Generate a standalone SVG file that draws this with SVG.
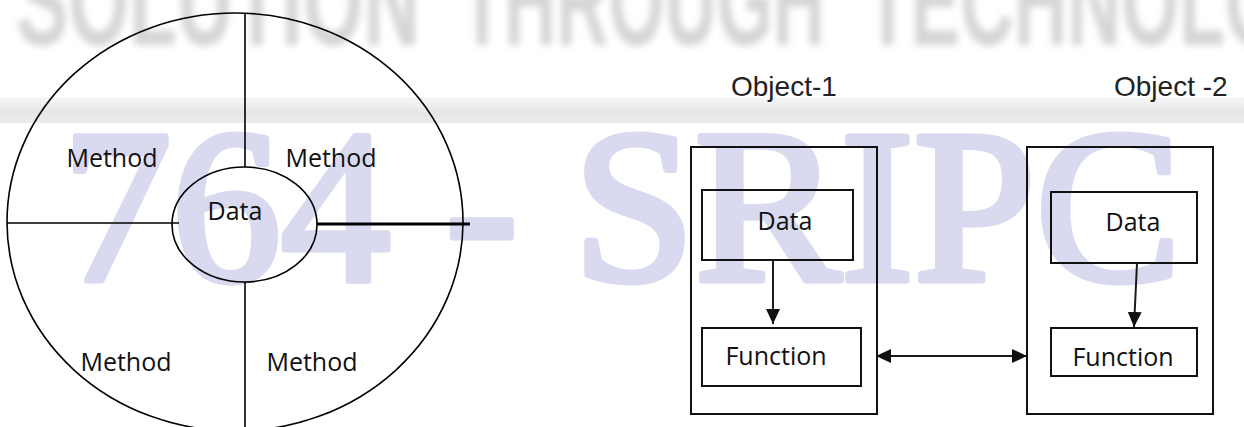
<svg xmlns="http://www.w3.org/2000/svg" width="1244" height="427" viewBox="0 0 1244 427">
  <style>
    .line { fill: none; stroke: #000; stroke-width: 1.6; }
    .box { fill: none; stroke: #111; stroke-width: 2; }
    .conn { fill: none; stroke: #1a1a1a; stroke-width: 2; }
    .lbl { font-family: "Open Sans", "Noto Sans", "Liberation Sans", sans-serif; font-size: 25px; fill: #111; }
    .obj { font-family: "Liberation Sans", Arial, sans-serif; font-size: 28px; fill: #222; }
    .mark { font-family: "Liberation Serif", "Times New Roman", serif; font-size: 219px; fill: #d9d9ef; stroke: #d9d9ef; stroke-width: 7; stroke-linejoin: round; }
    .band { font-family: "Liberation Sans", Arial, sans-serif; font-weight: bold; font-size: 130px; fill: #d5d5d5; }
  </style>
  <defs>
    <marker id="head" viewBox="0 0 15 14" markerWidth="15" markerHeight="14" refX="15" refY="7" orient="auto-start-reverse" markerUnits="userSpaceOnUse">
      <path d="M0,0 L15,7 L0,14 z" fill="#111"/>
    </marker>
    <filter id="soft" x="-5%" y="-20%" width="110%" height="140%">
      <feGaussianBlur stdDeviation="3.5"/>
    </filter>
    <linearGradient id="stripe" x1="0" y1="0" x2="0" y2="1">
      <stop offset="0" stop-color="#f7f7f7"/>
      <stop offset="0.6" stop-color="#e6e6e6"/>
      <stop offset="1" stop-color="#ececec"/>
    </linearGradient>
  </defs>

  <rect width="1244" height="427" fill="#fff"/>

  <!-- background branding -->
  <g id="backdrop">
    <g filter="url(#soft)">
      <text class="band" x="16" y="45" textLength="404" lengthAdjust="spacingAndGlyphs">SOLUTION</text>
      <text class="band" x="460" y="45" textLength="365" lengthAdjust="spacingAndGlyphs">THROUGH</text>
      <text class="band" x="865" y="45" textLength="525" lengthAdjust="spacingAndGlyphs">TECHNOLOGY</text>
    </g>
    <rect x="0" y="97" width="1244" height="26" fill="url(#stripe)"/>
    <text class="mark" x="62" y="280" xml:space="preserve">764 - SRIPC</text>
  </g>

  <!-- object with data core and surrounding methods -->
  <g id="object-wheel">
    <ellipse class="line" cx="235" cy="222" rx="228" ry="209"/>
    <line class="line" x1="245" y1="13" x2="245" y2="167"/>
    <line class="line" x1="245" y1="282" x2="245" y2="427"/>
    <line class="line" x1="7" y1="223" x2="179" y2="223"/>
    <line x1="317" y1="224" x2="470" y2="224" stroke="#000" stroke-width="3"/>
    <ellipse class="line" cx="244.5" cy="224.5" rx="72.5" ry="57.5"/>
    <text class="lbl" x="112" y="167" text-anchor="middle">Method</text>
    <text class="lbl" x="331" y="167" text-anchor="middle">Method</text>
    <text class="lbl" x="235" y="220" text-anchor="middle">Data</text>
    <text class="lbl" x="126" y="371" text-anchor="middle">Method</text>
    <text class="lbl" x="312" y="371" text-anchor="middle">Method</text>
  </g>

  <!-- Object-1 -->
  <g id="object-1">
    <text class="obj" x="731" y="96">Object-1</text>
    <rect class="box" x="691" y="147" width="186" height="267"/>
  </g>
  <g id="object-1-data">
    <rect class="box" x="702" y="190" width="151" height="70"/>
    <text class="lbl" x="785" y="230" text-anchor="middle">Data</text>
  </g>
  <g id="object-1-function">
    <rect class="box" x="702" y="328" width="159" height="58"/>
    <text class="lbl" x="776" y="365" text-anchor="middle">Function</text>
  </g>

  <!-- Object -2 -->
  <g id="object-2">
    <text class="obj" x="1114" y="96">Object -2</text>
    <rect class="box" x="1027" y="147" width="186" height="267"/>
  </g>
  <g id="object-2-data">
    <rect class="box" x="1051" y="192" width="146" height="71"/>
    <text class="lbl" x="1133" y="231" text-anchor="middle">Data</text>
  </g>
  <g id="object-2-function">
    <rect class="box" x="1051" y="328" width="146" height="48"/>
    <text class="lbl" x="1123" y="366" text-anchor="middle">Function</text>
  </g>

  <!-- connectors -->
  <g id="connectors">
    <line class="conn" x1="773" y1="260" x2="773" y2="324" marker-end="url(#head)"/>
    <line class="conn" x1="1137" y1="263" x2="1134" y2="327" marker-end="url(#head)"/>
    <line class="conn" x1="876" y1="356" x2="1027" y2="356" marker-start="url(#head)" marker-end="url(#head)"/>
  </g>
</svg>
